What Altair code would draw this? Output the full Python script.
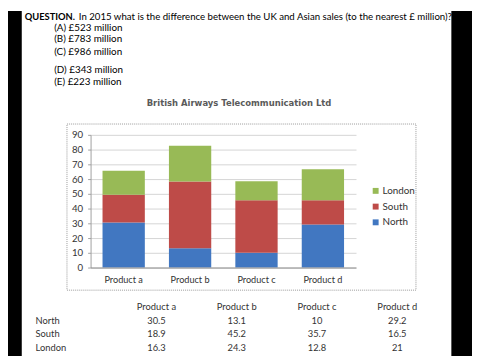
import altair as alt
import pandas as pd

products = ["Product a", "Product b", "Product c", "Product d"]
regions = ["North", "South", "London"]
north = [30.5, 13.1, 10, 29.2]
south = [18.9, 45.2, 35.7, 16.5]
london = [16.3, 24.3, 12.8, 21]
region_colors = {"London": "#98BA56", "South": "#BE4B48", "North": "#4177C1"}
y_ticks = [0, 10, 20, 30, 40, 50, 60, 70, 80, 90]
chart_title = "British Airways Telecommunication Ltd"
question_bold = "QUESTION."
question_text = "In 2015 what is the difference between the UK and Asian sales (to the nearest £ million)?"
options = ["(A) £523 million", "(B) £783 million", "(C) £986 million",
           "(D) £343 million", "(E) £223 million"]

rows = []
for reg, vals in zip(regions, [north, south, london]):
    for p, v in zip(products, vals):
        rows.append({"product": p, "region": reg, "value": v,
                     "stack": regions.index(reg), "label": f"{v:g}"})
df = pd.DataFrame(rows)
one = pd.DataFrame({"k": [0]})

FONT = "Lato"
W, H = 270, 135
PL, PT = 84, 126
TOTAL_W, TOTAL_H = 472, 351


def px(x):
    return x - (PL + 8)


def py(y):
    return y - (PT + 8)


legend_order = ["London", "South", "North"]

bars = alt.Chart(df).mark_bar().encode(
    x=alt.X("product:N", sort=products,
            scale=alt.Scale(paddingInner=0.363, paddingOuter=0.18),
            axis=alt.Axis(title=None, labelAngle=0, ticks=False, zindex=1,
                          domainColor="#8c8c8c", labelFont=FONT, labelFontSize=9.3,
                          labelColor="#333333", labelPadding=8)),
    y=alt.Y("value:Q", stack="zero",
            scale=alt.Scale(domain=[0, 90], nice=False),
            axis=alt.Axis(title=None, values=y_ticks, gridColor="#d4d4d4",
                          domainColor="#a0a0a0", tickColor="#a0a0a0", tickSize=3,
                          labelFont=FONT, labelFontSize=9.8, labelColor="#333333",
                          labelPadding=5)),
    color=alt.Color("region:N",
                    scale=alt.Scale(domain=legend_order,
                                    range=[region_colors[r] for r in legend_order]),
                    legend=alt.Legend(title=None, orient="none",
                                      legendX=px(377), legendY=py(186),
                                      symbolType="square", symbolSize=36,
                                      symbolStrokeWidth=0, labelOffset=2,
                                      labelFont=FONT, labelFontSize=10,
                                      labelColor="#333333", rowPadding=6,
                                      padding=0)),
    order=alt.Order("stack:Q", sort="ascending"),
)

frame = alt.Chart(one).mark_rect(fillOpacity=0, stroke="#9a9a9a",
                                 strokeDash=[1, 1], strokeWidth=1).encode(
    x=alt.value(px(68)), x2=alt.value(px(423)),
    y=alt.value(py(123)), y2=alt.value(py(292)))

left_bar = alt.Chart(one).mark_rect(fill="black").encode(
    x=alt.value(px(8)), x2=alt.value(px(22)),
    y=alt.value(py(8)), y2=alt.value(py(8 + TOTAL_H)))
right_bar = alt.Chart(one).mark_rect(fill="black").encode(
    x=alt.value(px(459)), x2=alt.value(px(8 + TOTAL_W)),
    y=alt.value(py(8)), y2=alt.value(py(8 + TOTAL_H)))

title_mark = alt.Chart(one).mark_text(
    text=chart_title, font="DejaVu Sans", fontWeight="bold", fontSize=8.6,
    color="#5a5a5a", align="center", baseline="middle").encode(
    x=alt.value(px(243)), y=alt.value(py(102)))

q_bold = alt.Chart(one).mark_text(
    text=question_bold, font=FONT, fontWeight="bold", fontSize=9.5,
    color="black", align="left", baseline="middle").encode(
    x=alt.value(px(25)), y=alt.value(py(14)))
q_text = alt.Chart(one).mark_text(
    text=question_text, font=FONT, fontSize=9.8,
    color="black", align="left", baseline="middle").encode(
    x=alt.value(px(80)), y=alt.value(py(14)))

option_y = [25, 37, 50, 68, 80]
option_layers = []
for txt, yy in zip(options, option_y):
    option_layers.append(
        alt.Chart(one).mark_text(text=txt, font=FONT, fontSize=10, color="black",
                                 align="left", baseline="middle").encode(
            x=alt.value(px(55)), y=alt.value(py(yy))))

table_x = alt.X("product:N", sort=products,
                scale=alt.Scale(type="point", domain=products,
                                range=[px(159), px(404)], padding=0),
                axis=None)
table_y = alt.Y("region:N",
                scale=alt.Scale(type="point", domain=regions,
                                range=[py(323), py(351)], padding=0),
                axis=None)

hdr_df = pd.DataFrame({"product": products})
table_head = alt.Chart(hdr_df).mark_text(
    font=FONT, fontSize=9.5, color="#333333", align="center",
    baseline="middle").encode(
    x=table_x, y=alt.value(py(309)), text="product:N")

table_vals = alt.Chart(df).mark_text(
    font=FONT, fontSize=9.5, color="#333333", align="center",
    baseline="middle").encode(
    x=table_x, y=table_y, text="label:N")

reg_df = pd.DataFrame({"region": regions})
table_rows = alt.Chart(reg_df).mark_text(
    font=FONT, fontSize=9.5, color="#333333", align="left",
    baseline="middle").encode(
    x=alt.value(px(36)), y=table_y, text="region:N")

chart = alt.layer(
    left_bar, right_bar, frame, bars, title_mark, q_bold, q_text,
    *option_layers, table_head, table_vals, table_rows
).resolve_scale(x="independent", y="independent").properties(
    width=W, height=H, background="white",
    autosize=alt.AutoSizeParams(type="none"),
    padding={"left": PL, "top": PT, "right": TOTAL_W - PL - W,
             "bottom": TOTAL_H - PT - H},
).configure_view(strokeWidth=0)

chart.save("out.html", embed_options={"renderer": "svg", "actions": False})
